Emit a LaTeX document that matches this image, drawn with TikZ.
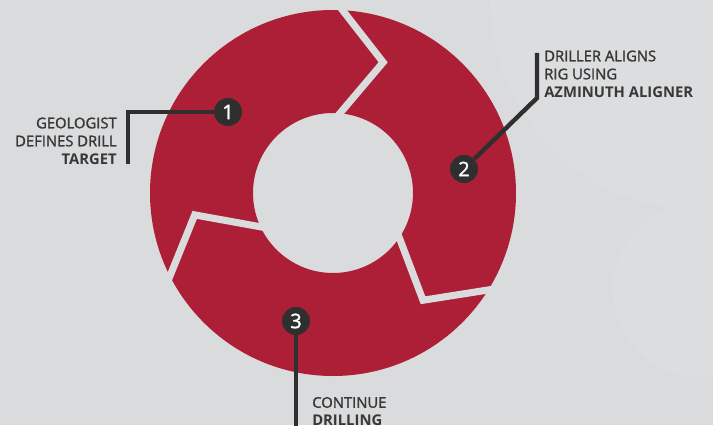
\documentclass[tikz,border=0pt]{standalone}
\usepackage{fontspec}
\setmainfont{Open Sans}[UprightFeatures={FakeBold=1.6}]
\usepackage{tikz}
\usetikzlibrary{positioning, calc}
\definecolor{bggray}{HTML}{DADBDC}
\definecolor{bglight}{HTML}{DCDDDE}
\definecolor{ringred}{HTML}{AD1F36}
\definecolor{markdark}{HTML}{2F2F2F}
\definecolor{labelgray}{HTML}{383838}

\begin{document}
\begin{tikzpicture}[
  x=0.75pt, y=0.75pt,
  stepnum/.style={circle, fill=markdark, text=white, minimum size=21pt, inner sep=0pt, font=\fontsize{15}{15}\selectfont},
  callout/.style={draw=markdark, line width=3.3pt},
  gapline/.style={draw=bggray, line width=5.3pt},
  steplabel/.style={inner sep=0pt, font=\fontsize{11.1}{13.5}\selectfont, text=labelgray},
]
  % page and faint background circles
  \fill[bggray] (-333,-232) rectangle (380,193);
  \useasboundingbox (-333,-232) rectangle (380,193);
  \begin{scope}
    \clip (-333,-232) rectangle (380,193);
    \fill[bglight] (367,193) circle (210);
    \fill[bglight] (367,-97) circle (87);
  \end{scope}

  % ring cut into three arrows
  \fill[ringred, even odd rule] (0,0) circle (183) (0,0) circle (80);
  \foreach \a in {86,-33,206} {
    \coordinate (go) at (\a+1:183);
    \coordinate (gt) at (\a-17:140);
    \coordinate (gi) at (\a-1:80);
    \draw[gapline] ($(gt)!1.2!(go)$) -- (gt) -- ($(gt)!1.2!(gi)$);
  }

  % step markers
  \node[stepnum] (n1) at (-105,81) {1};
  \node[stepnum] (n2) at (131,24) {2};
  \node[stepnum] (n3) at (-37,-128) {3};

  \coordinate (c1a) at (-205,81);
  \coordinate (c1b) at (-205,29);
  \coordinate (c2a) at (204,95);
  \coordinate (c2b) at (204,140);
  \coordinate (c3b) at (-37,-240);

  \draw[callout] (c1b) -- (c1a) -- (n1);
  \draw[callout] (c2b) -- (c2a) -- (n2);
  \draw[callout] (n3) -- (c3b);

  % labels
  \node[steplabel, align=right, anchor=east] (t1) at (-216,52)
    {GEOLOGIST\\DEFINES DRILL\\\textbf{TARGET}};
  \node[steplabel, align=left, anchor=west] (t2) at (211,119)
    {DRILLER ALIGNS\\RIG USING\\\textbf{AZMINUTH ALIGNER}};
  \node[steplabel, align=left, anchor=west] (t3) at (-21,-218.5)
    {CONTINUE\\\textbf{DRILLING}};
\end{tikzpicture}
\end{document}
